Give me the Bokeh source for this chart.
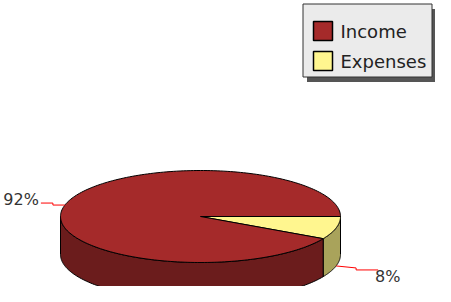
import numpy as np
from bokeh.plotting import figure
from bokeh.models import Range1d
from bokeh.core.properties import value
from bokeh.embed import file_html
from bokeh.resources import INLINE

# ---- data ----
categories = ["Income", "Expenses"]
amounts = [92, 8]
top_colors = ["#A52A2A", "#FFF68F"]
side_colors = ["#6B1C1C", "#A9A35B"]

# ---- geometry (pixel coordinates) ----
cx, cy = 200.0, 216.0
a, b = 140.0, 46.0
depth = 38.0

p = figure(width=435, height=286, output_backend="svg", toolbar_location=None,
           x_range=Range1d(0, 435), y_range=Range1d(286, 0), min_border=0)
p.axis.visible = False
p.grid.visible = False
p.outline_line_color = None
p.background_fill_color = "white"
p.border_fill_color = "white"

total = float(sum(amounts))
fracs = [v / total for v in amounts]
# slices start at angle 0 (right) and run clockwise on screen; Expenses first
order = [1, 0]
start = 0.0
spans = {}
for i in order:
    end = start + fracs[i] * 2 * np.pi
    spans[i] = (start, end)
    start = end

def arc(t0, t1, n=120):
    t = np.linspace(t0, t1, n)
    return cx + a * np.cos(t), cy + b * np.sin(t)

# side walls (front half only)
for i in order:
    t0, t1 = spans[i]
    s0, s1 = max(t0, 0.0), min(t1, np.pi)
    if s1 <= s0:
        continue
    xs, ys = arc(s0, s1)
    px = np.concatenate([xs, xs[::-1]])
    py = np.concatenate([ys, (ys + depth)[::-1]])
    p.patch(px, py, fill_color=side_colors[i], line_color="black", line_width=1)

# top wedges
for i in order:
    t0, t1 = spans[i]
    xs, ys = arc(t0, t1, 240)
    px = np.concatenate([[cx], xs, [cx]])
    py = np.concatenate([[cy], ys, [cy]])
    p.patch(px, py, fill_color=top_colors[i], line_color="black", line_width=1)

# percentage labels with leader lines
for i in order:
    t0, t1 = spans[i]
    tm = 0.5 * (t0 + t1)
    sx = cx + a * np.cos(tm)
    sy = cy + b * np.sin(tm)
    if np.sin(tm) > 0:
        sy += depth
    pct = "%d%%" % round(fracs[i] * 100)
    if np.cos(tm) >= 0:
        ex, ey = sx + 42, sy + 4
        p.line([sx, sx + 20, sx + 20, ex], [sy, sy + 2, sy + 4, ey], line_color="red", line_width=1)
        p.text([ex - 3], [ey + 7], text=[pct], text_align="left", text_baseline="middle",
               text_font=value("DejaVu Sans"), text_font_size="16px", text_color="#333333")
    else:
        ex, ey = sx - 24, sy - 2
        p.line([sx, sx - 12, sx - 12, ex], [sy, sy, sy - 2, ey], line_color="red", line_width=1)
        p.text([ex - 2], [ey - 4], text=[pct], text_align="right", text_baseline="middle",
               text_font=value("DejaVu Sans"), text_font_size="16px", text_color="#333333")

# legend box
lx0, lx1, ly0, ly1 = 302.5, 431.5, 3.5, 76.5
p.quad(left=[lx0 + 4], right=[lx1 + 4], top=[ly0 + 5], bottom=[ly1 + 5],
       fill_color="#555555", line_color=None)
p.quad(left=[lx0], right=[lx1], top=[ly0], bottom=[ly1],
       fill_color="#EBEBEB", line_color="#333333", line_width=1)
item_y = [30.5, 60.5]
p.rect(x=[322.5, 322.5], y=item_y, width=19, height=19,
       fill_color=[top_colors[0], top_colors[1]], line_color="black", line_width=1.5)
p.text(x=[340, 340], y=item_y, text=categories, text_align="left", text_baseline="middle",
       text_font=value("DejaVu Sans"), text_font_size="18px", text_color="#222222")

open("out.html", "w").write(file_html(p, INLINE))
